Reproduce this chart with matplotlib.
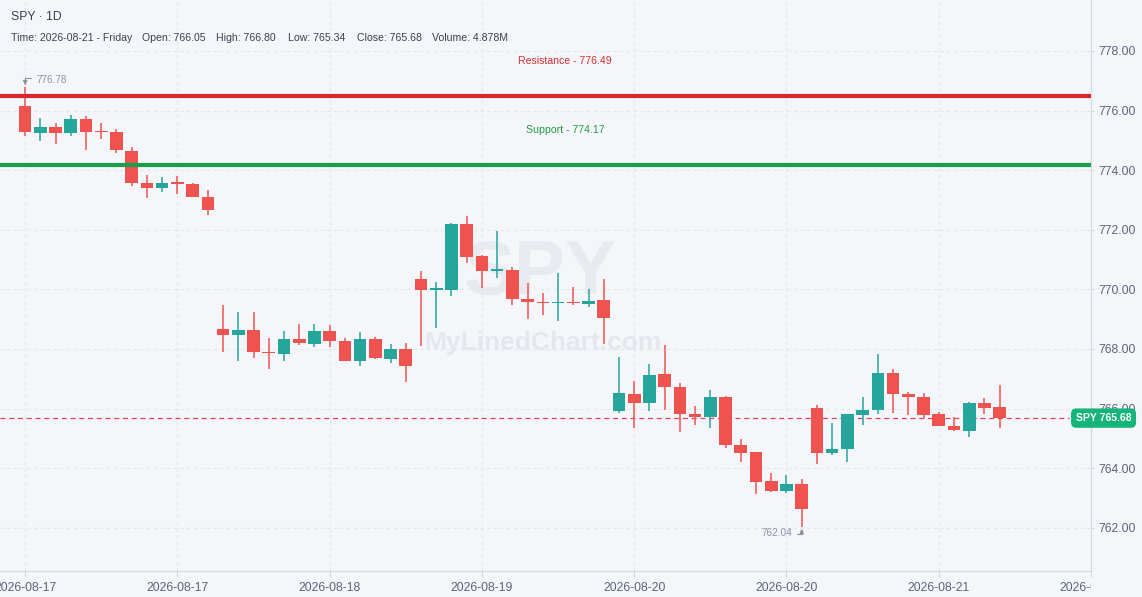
import matplotlib
matplotlib.use('Agg')
import matplotlib.pyplot as plt
from matplotlib.transforms import Bbox, TransformedBbox, blended_transform_factory
import numpy as np

# chart data
symbol = "SPY"
interval = "1D"
opens = [776.16, 775.26, 775.45, 775.26, 775.72, 775.29, 775.28, 774.64, 773.57, 773.41, 773.57, 773.54, 773.11,
         768.67, 768.48, 768.64, 767.91, 767.84, 768.34, 768.18, 768.60, 768.27, 767.61, 768.34, 767.67, 768.00,
         770.35, 769.99, 769.99, 772.19, 771.12, 770.62, 770.65, 769.68, 769.58, 769.53, 769.58, 769.52, 769.65,
         765.93, 766.49, 766.20, 767.16, 766.72, 765.82, 765.73, 766.39, 764.78, 764.54, 763.57, 763.24, 763.48,
         766.02, 764.52, 764.66, 765.80, 765.96, 767.19, 766.49, 766.39, 765.82, 765.42, 765.26, 766.19, 766.05]
closes = [775.29, 775.45, 775.26, 775.72, 775.29, 775.27, 774.68, 773.58, 773.41, 773.57, 773.55, 773.11, 772.67,
          768.48, 768.64, 767.91, 767.85, 768.34, 768.21, 768.60, 768.28, 767.61, 768.34, 767.71, 768.00, 767.44,
          769.99, 770.01, 772.19, 771.10, 770.63, 770.65, 769.69, 769.56, 769.53, 769.58, 769.53, 769.61, 769.05,
          766.52, 766.20, 767.13, 766.74, 765.83, 765.73, 766.39, 764.79, 764.52, 763.55, 763.24, 763.48, 762.64,
          764.52, 764.64, 765.82, 765.95, 767.19, 766.50, 766.40, 765.80, 765.43, 765.28, 766.19, 766.03, 765.68]
highs = [776.78, 775.75, 775.58, 775.85, 775.82, 775.58, 775.38, 774.78, 773.84, 773.77, 773.81, 773.58, 773.35,
         769.48, 769.24, 769.24, 768.37, 768.60, 768.84, 768.84, 768.81, 768.37, 768.57, 768.40, 768.17, 768.20,
         770.63, 770.25, 772.22, 772.46, 771.15, 771.96, 770.74, 770.23, 769.88, 770.56, 770.08, 770.01, 770.35,
         767.74, 766.93, 767.48, 768.13, 766.86, 766.09, 766.62, 766.42, 764.99, 764.54, 763.85, 763.78, 763.65,
         766.12, 765.52, 765.82, 766.40, 767.83, 767.33, 766.56, 766.52, 765.89, 765.72, 766.22, 766.36, 766.80]
lows = [775.16, 774.99, 774.89, 775.16, 774.68, 775.05, 774.59, 773.48, 773.08, 773.28, 773.21, 773.11, 772.51,
        767.91, 767.61, 767.71, 767.34, 767.61, 768.14, 768.08, 768.08, 767.61, 767.44, 767.67, 767.54, 766.90,
        768.11, 768.72, 769.79, 770.88, 770.06, 770.39, 769.49, 769.02, 769.15, 768.95, 769.49, 769.42, 768.18,
        765.86, 765.36, 765.93, 765.96, 765.23, 765.46, 765.36, 764.69, 764.22, 763.15, 763.21, 763.18, 762.04,
        764.15, 764.45, 764.22, 765.46, 765.83, 765.86, 765.80, 765.70, 765.43, 765.26, 765.06, 765.83, 765.34]

resistance = 776.49
support = 774.17
volume_text = "4.878M"
time_text = "2026-08-21 - Friday"

x_tick_pos = [0, 10, 20, 30, 40, 50, 60, 70]
x_tick_labels = ["2026-08-17", "2026-08-17", "2026-08-18", "2026-08-19",
                 "2026-08-20", "2026-08-20", "2026-08-21", "2026-08-21"]
y_ticks = [762, 764, 766, 768, 770, 772, 774, 776, 778]

# colours
BG = '#f5f6fa'
UP = '#26a69a'
DOWN = '#ef5350'
GRID = '#e3e6ed'
SPINE = '#d5d9e1'
TICK = '#5b6579'
TEXT = '#3a4150'
NOTE = '#8a93a6'

plt.rcParams['font.family'] = ['Liberation Sans', 'DejaVu Sans']

W, H = 1142, 597
fig = plt.figure(figsize=(W / 100, H / 100), dpi=100)
fig.patch.set_facecolor(BG)
ax = fig.add_axes([0, 26 / H, 1091 / W, 571 / H])
ax.set_facecolor(BG)

x = np.arange(len(opens))
o = np.array(opens)
c = np.array(closes)
colors = [UP if cc >= oo else DOWN for oo, cc in zip(o, c)]
body_lo = np.minimum(o, c)
body_h = np.maximum(np.abs(c - o), 0.06)

ax.vlines(x, lows, highs, colors=colors, linewidth=1.1, zorder=3)
ax.bar(x, body_h, bottom=body_lo, width=0.83, color=colors, linewidth=0, zorder=4)

# support / resistance
mixed = blended_transform_factory(ax.transAxes, ax.transData)
ax.axhline(resistance, color='#d9262b', linewidth=3.0, zorder=5)
ax.axhline(support, color='#17a047', linewidth=3.0, zorder=5)
ax.annotate(f"Resistance - {resistance:.2f}", xy=(0.518, resistance), xycoords=mixed,
            xytext=(0, 25), textcoords='offset points', ha='center', va='center',
            fontsize=7.6, color='#d32f2f', zorder=6)
ax.annotate(f"Support - {support:.2f}", xy=(0.518, support), xycoords=mixed,
            xytext=(0, 25), textcoords='offset points', ha='center', va='center',
            fontsize=7.6, color='#1e9e45', zorder=6)

# last price line (stops at the tag) + tag
last = closes[-1]
ax.axhline(last, xmax=0.98, color='#e8415f', linewidth=0.9, linestyle=(0, (4, 3)), zorder=2)
ax.text(1.0115, last, f"{symbol} {last:.2f}", transform=mixed,
        ha='center', va='center', fontsize=7.5, fontweight='bold', color='white',
        bbox=dict(boxstyle='round,pad=0.45,rounding_size=0.5', fc='#15b57a', ec='none'),
        zorder=10, clip_on=False)

# watermark
ax.text(0.495, 0.519, symbol, transform=ax.transAxes, ha='center', va='center',
        fontsize=55, fontweight='bold', color='#e8eaf0', zorder=1)
ax.text(0.498, 0.400, "MyLinedChart.com", transform=ax.transAxes, ha='center', va='center',
        fontsize=19, fontweight='bold', color='#e5e7ee', zorder=1)

# max / min notes with small hook arrows
imax = int(np.argmax(highs))
imin = int(np.argmin(lows))
hook = dict(arrowstyle='-|>,head_length=0.25,head_width=0.12', color=NOTE, lw=0.8,
            connectionstyle='angle,angleA=0,angleB=90,rad=0', shrinkA=0, shrinkB=1.5)
ax.annotate("", xy=(imax, highs[imax]), xytext=(4.5, 7), textcoords='offset points',
            arrowprops=hook, zorder=6)
ax.annotate(f"{highs[imax]:.2f}", xy=(imax, highs[imax]), xytext=(8, 5.5),
            textcoords='offset points', ha='left', va='center', fontsize=7.2, color=NOTE, zorder=6)
ax.annotate("", xy=(imin, lows[imin]), xytext=(-3.5, -5), textcoords='offset points',
            arrowprops=hook, zorder=6)
ax.annotate(f"{lows[imin]:.2f}", xy=(imin, lows[imin]), xytext=(-7, -4.5),
            textcoords='offset points', ha='right', va='center', fontsize=7.2, color=NOTE, zorder=6)

# axes
ax.set_xlim(-1.65, 69.52)
ax.set_ylim(760.55, 779.71)
ax.yaxis.tick_right()
ax.set_yticks(y_ticks)
ax.set_yticklabels([f"{v:.2f}" for v in y_ticks])
ax.set_xticks(x_tick_pos)
ax.set_xticklabels(x_tick_labels)
ax.tick_params(axis='y', length=2.5, width=0.8, color=SPINE, pad=3, labelsize=8.7, labelcolor=TICK)
ax.tick_params(axis='x', length=4, width=0.8, color=SPINE, pad=4, labelsize=8.7, labelcolor=TICK)
ax.grid(True, color=GRID, linewidth=0.8, linestyle=(0, (3, 3)), zorder=0)
for side in ['top', 'left']:
    ax.spines[side].set_visible(False)
for side in ['right', 'bottom']:
    ax.spines[side].set_color(SPINE)
    ax.spines[side].set_linewidth(0.9)

# x labels do not run past the price scale
clip = TransformedBbox(Bbox([[0, 0], [1091 / W, 1]]), fig.transFigure)
for lab in ax.get_xticklabels():
    lab.set_clip_box(clip)
    lab.set_clip_on(True)

# header
def px(xp, yp):
    return xp / W, 1 - yp / H

fig.text(*px(11, 17), f"{symbol} · {interval}", fontsize=8.8, color=TEXT, va='center')
header = [(11, f"Time: {time_text}"), (142, f"Open: {opens[-1]:.2f}"), (216, f"High: {highs[-1]:.2f}"),
          (288, f"Low: {lows[-1]:.2f}"), (357, f"Close: {closes[-1]:.2f}"), (432, f"Volume: {volume_text}")]
for xp, s in header:
    fig.text(*px(xp, 38), s, fontsize=7.6, color=TEXT, va='center')

fig.savefig('out.png', dpi=100, facecolor=BG)
